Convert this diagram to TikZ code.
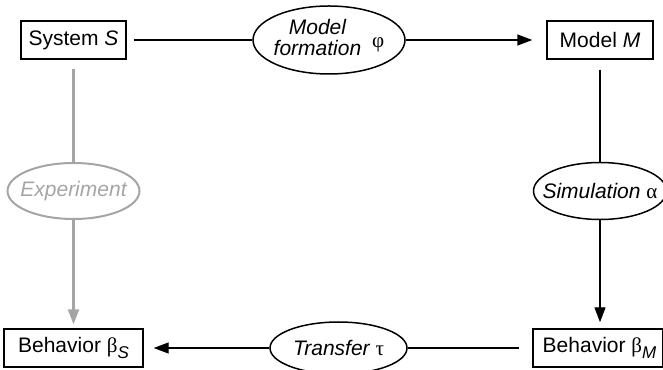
\documentclass[tikz,border=0pt]{standalone}
\usepackage{fontspec}
\setmainfont{Liberation Sans}
\newfontfamily\gk{Liberation Serif}
\usetikzlibrary{arrows.meta,shapes.geometric}
\definecolor{lgray}{RGB}{165,165,165}
\tikzset{
  base/.style={font=\fontsize{21}{18}\selectfont, inner sep=0pt},
  box/.style={base, draw, line width=1.4pt, rectangle, minimum height=38pt},
  oval/.style={base, draw, line width=1.5pt, ellipse, inner sep=-20pt},
  conn/.style={line width=1.4pt},
  arr/.style={conn, -{Triangle[length=15pt,width=11pt]}},
  grayc/.style={draw=lgray, text=lgray},
}
\begin{document}
\begin{tikzpicture}[x=1pt,y=1pt]
\useasboundingbox (0,0) rectangle (663,369);
\clip (0,0) rectangle (663,369);
\node[box, minimum width=105pt] (S) at (73.5,329) {System \textit{S}};
\node[oval, minimum width=152pt, minimum height=68pt] (mf) at (329,329)
  {\begin{tabular}{@{}c@{}}\itshape Model\\\itshape formation\end{tabular}\hspace{11pt}\raisebox{-2pt}{\fontsize{21}{18}\gk φ}};
\node[box, minimum width=106pt] (M) at (600,329) {Model \textit{M}};
\node[oval, grayc, line width=2pt, minimum width=132pt, minimum height=56pt] (exp) at (73.5,178) {\itshape Experiment};
\node[oval, minimum width=133pt, minimum height=57pt] (sim) at (600,178) {\itshape Simulation {\gk\upshape α}};
\node[box, minimum width=139pt] (bS) at (73.5,21) {Behavior {\gk β}\raisebox{-6pt}{\fontsize{17}{17}\selectfont\itshape S}};
\node[box, minimum width=130pt] (bM) at (598,21) {\hspace{3pt}Behavior {\gk β}\raisebox{-6pt}{\fontsize{17}{17}\selectfont\itshape M}};
\node[oval, minimum width=137pt, minimum height=52pt] (tr) at (338.5,21) {\itshape Transfer {\gk\upshape τ}};
\draw[conn, shorten <=7pt] (S.east) -- (mf.west);
\draw[arr, shorten >=14pt] (mf.east) -- (M.west);
\draw[conn, shorten <=10pt] (M.south) -- (sim.north);
\draw[arr, shorten >=6pt] (sim.south) -- (sim.south |- bM.north);
\draw[conn, shorten <=13pt] (bM.west) -- (tr.east);
\draw[arr, shorten >=10pt] (tr.west) -- (bS.east);
\draw[conn, draw=lgray, line width=2.2pt, shorten <=9pt] (S.south) -- (exp.north);
\draw[arr, draw=lgray, line width=2.2pt, shorten >=4pt] (exp.south) -- (bS.north);
\end{tikzpicture}
\end{document}
